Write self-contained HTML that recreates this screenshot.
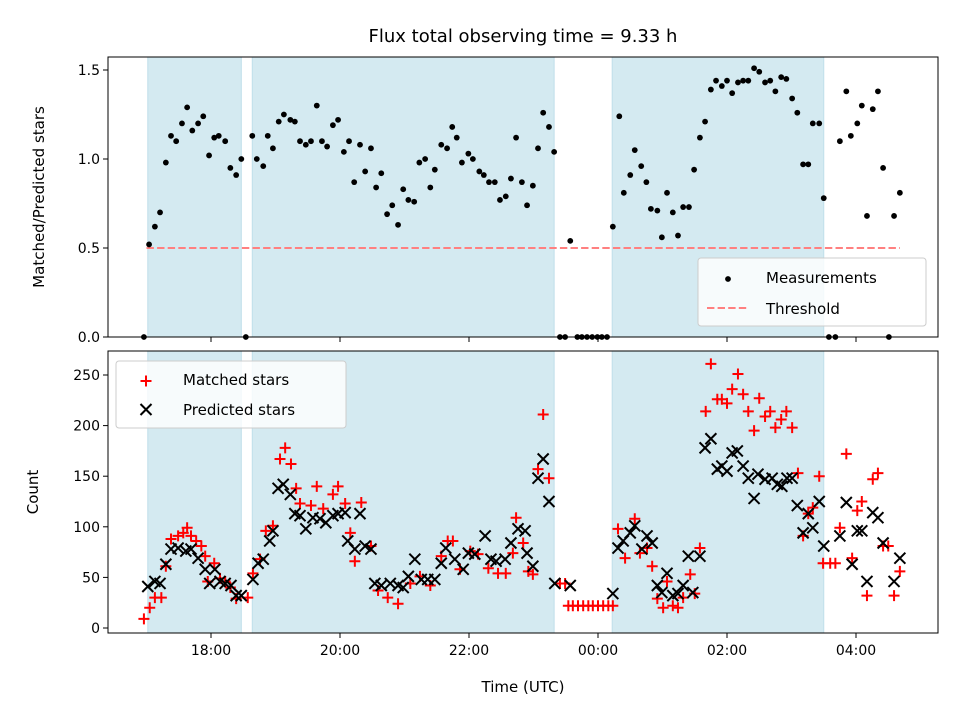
<!DOCTYPE html>
<html><head><meta charset="utf-8"><style>
body{margin:0;background:#fff}
svg{display:block;font-family:"DejaVu Sans","Liberation Sans",sans-serif}
</style></head><body>
<svg id="fig" width="960" height="720" viewBox="0 0 960 720">
<g id="topPanel"></g>
<g id="botPanel"></g>
<text x="523" y="42" text-anchor="middle" font-size="18">Flux total observing time = 9.33 h</text>
<text x="523" y="692" text-anchor="middle" font-size="15">Time (UTC)</text>
<text transform="translate(44,197) rotate(-90)" text-anchor="middle" font-size="15">Matched/Predicted stars</text>
<text transform="translate(38,492) rotate(-90)" text-anchor="middle" font-size="15">Count</text>
</svg>
<script>
const shadeStarts=[17.02,18.64,24.22];
const shadeEnds=[18.47,23.32,27.50];
const threshold=0.5;
const thresholdRange=[17.0,28.68];
const xTickHours=[18,20,22,24,26,28];
const xTickLabels=["18:00","20:00","22:00","00:00","02:00","04:00"];
const ratioTicks=[0,0.5,1.0,1.5];
const ratioTickLabels=["0.0","0.5","1.0","1.5"];
const countTicks=[0,50,100,150,200,250];
const ratioTimes=[16.96,17.04,17.13,17.21,17.30,17.38,17.46,17.55,17.63,17.71,17.80,17.88,17.97,18.05,18.12,18.22,18.30,18.39,18.47,18.54,18.64,18.71,18.81,18.88,18.96,19.05,19.13,19.23,19.30,19.38,19.47,19.55,19.64,19.72,19.80,19.89,19.97,20.06,20.14,20.22,20.31,20.39,20.48,20.56,20.64,20.73,20.81,20.90,20.98,21.06,21.15,21.23,21.32,21.40,21.47,21.57,21.66,21.74,21.81,21.89,21.99,22.06,22.16,22.23,22.31,22.40,22.48,22.57,22.65,22.73,22.82,22.90,22.99,23.07,23.15,23.24,23.32,23.41,23.49,23.57,23.68,23.75,23.83,23.91,23.99,24.06,24.14,24.23,24.33,24.40,24.50,24.57,24.67,24.75,24.82,24.92,24.99,25.07,25.16,25.24,25.32,25.41,25.49,25.58,25.66,25.75,25.83,25.92,26.00,26.08,26.17,26.25,26.33,26.42,26.50,26.59,26.67,26.75,26.84,26.92,27.01,27.09,27.18,27.26,27.33,27.43,27.50,27.58,27.68,27.75,27.85,27.92,28.02,28.09,28.17,28.26,28.34,28.42,28.51,28.59,28.68];
const ratioValues=[0,0.52,0.62,0.70,0.98,1.13,1.10,1.20,1.29,1.16,1.20,1.24,1.02,1.12,1.13,1.10,0.95,0.91,1.00,0,1.13,1.00,0.96,1.13,1.06,1.21,1.25,1.22,1.21,1.10,1.08,1.10,1.30,1.10,1.07,1.19,1.22,1.04,1.10,0.87,1.08,0.93,1.06,0.84,0.92,0.69,0.74,0.63,0.83,0.77,0.76,0.98,1.00,0.84,0.94,1.08,1.06,1.18,1.12,0.98,1.03,1.00,0.93,0.91,0.87,0.87,0.77,0.79,0.89,1.12,0.87,0.74,0.85,1.06,1.26,1.18,1.04,0,0,0.54,0,0,0,0,0,0,0,0.62,1.24,0.81,0.91,1.05,0.96,0.87,0.72,0.71,0.56,0.81,0.70,0.57,0.73,0.73,0.94,1.12,1.21,1.39,1.44,1.41,1.44,1.37,1.43,1.44,1.44,1.51,1.49,1.43,1.44,1.38,1.46,1.45,1.34,1.26,0.97,0.97,1.20,1.20,0.78,0,0,1.10,1.38,1.13,1.20,1.30,0.68,1.28,1.38,0.95,0,0.68,0.81];
const predTimes=[17.02,17.13,17.21,17.30,17.38,17.49,17.61,17.69,17.80,17.91,17.98,18.06,18.14,18.22,18.31,18.39,18.47,18.65,18.73,18.81,18.91,18.96,19.04,19.12,19.23,19.30,19.38,19.47,19.58,19.69,19.78,19.89,19.97,20.08,20.12,20.23,20.31,20.39,20.48,20.54,20.64,20.78,20.90,20.98,21.06,21.16,21.26,21.36,21.47,21.57,21.64,21.78,21.91,21.99,22.09,22.25,22.34,22.42,22.56,22.65,22.76,22.87,22.90,22.99,23.07,23.15,23.24,23.33,23.57,24.23,24.31,24.39,24.50,24.57,24.68,24.76,24.84,24.92,24.99,25.07,25.16,25.24,25.32,25.40,25.47,25.58,25.66,25.75,25.85,25.92,26.00,26.08,26.16,26.25,26.33,26.42,26.48,26.59,26.70,26.78,26.85,26.93,27.01,27.09,27.18,27.26,27.33,27.43,27.50,27.75,27.85,27.94,28.02,28.09,28.17,28.26,28.34,28.42,28.59,28.68];
const predValues=[41,46,44,63,78,79,76,78,69,58,44,58,46,44,42,32,32,48,64,68,86,96,138,142,132,113,111,98,109,108,104,111,113,114,86,78,113,81,78,44,42,44,42,40,51,68,48,48,48,64,79,68,58,74,73,91,68,66,68,84,98,96,74,61,148,167,125,44,42,34,79,86,94,101,78,91,84,42,35,54,32,34,42,71,35,71,178,187,157,160,155,173,175,160,148,128,152,147,148,142,140,148,148,121,94,113,99,125,81,91,124,63,96,96,46,114,109,84,46,69];
const matchTimes=[16.96,17.05,17.13,17.23,17.30,17.38,17.49,17.57,17.63,17.69,17.77,17.85,17.91,17.95,18.05,18.14,18.22,18.30,18.39,18.57,18.65,18.76,18.85,18.96,19.07,19.15,19.24,19.32,19.38,19.55,19.64,19.74,19.89,19.97,20.08,20.16,20.23,20.33,20.48,20.59,20.74,20.90,21.09,21.24,21.40,21.57,21.67,21.75,21.86,22.02,22.14,22.30,22.45,22.57,22.68,22.73,22.84,22.92,22.99,23.07,23.15,23.24,23.41,23.49,23.54,23.61,23.69,23.77,23.85,23.92,24.00,24.08,24.16,24.23,24.31,24.42,24.57,24.65,24.76,24.84,24.92,25.01,25.07,25.16,25.24,25.32,25.43,25.50,25.58,25.67,25.75,25.85,25.92,26.00,26.08,26.17,26.25,26.33,26.42,26.50,26.59,26.67,26.75,26.84,26.92,27.01,27.10,27.18,27.26,27.33,27.43,27.49,27.60,27.68,27.75,27.85,27.94,28.02,28.09,28.17,28.26,28.34,28.42,28.50,28.59,28.68];
const matchValues=[9,20,30,30,61,88,91,94,99,91,86,81,71,46,64,49,46,40,29,30,54,68,96,101,167,178,162,138,123,121,140,118,132,140,123,94,66,124,81,37,30,24,44,51,42,71,86,86,58,76,73,59,54,54,74,109,84,56,53,157,211,148,44,44,22,22,22,22,22,22,22,22,22,22,98,69,108,74,79,61,29,20,46,22,20,30,53,34,79,214,261,226,226,222,236,251,231,214,195,227,209,214,198,206,214,198,153,91,113,119,150,64,64,64,99,172,69,116,125,32,147,153,81,81,32,56];

const NS="http://www.w3.org/2000/svg";
const X0=108,X1=938;
const xs=t=>211+(t-18)*64.5;
const TOP={y0:57,y1:337}, BOT={y0:351,y1:633};
const ys1=v=>337-v*178;
const ys2=v=>628-v*1.012;
function mk(parent,tag,attrs,text){const e=document.createElementNS(NS,tag);for(const k in attrs)e.setAttribute(k,attrs[k]);if(text!==undefined)e.textContent=text;parent.appendChild(e);return e;}

function frame(g,P,name){
  for(let i=0;i<shadeStarts.length;i++){
    const r=mk(g,'rect',{x:xs(shadeStarts[i]),y:P.y0,width:xs(shadeEnds[i])-xs(shadeStarts[i]),height:P.y1-P.y0,fill:'#d4eaf1',stroke:'#c0dfea','stroke-width':1});
    
    
  }
}
function axesBox(g,P,labels){
  const b=mk(g,'rect',{x:X0,y:P.y0,width:X1-X0,height:P.y1-P.y0,fill:'none',stroke:'#000','stroke-width':1});
  
  
  xTickHours.forEach((h,i)=>{
    const x=xs(h);
    mk(g,'line',{x1:x,x2:x,y1:P.y1,y2:P.y1+5,stroke:'#000','stroke-width':1});
    if(labels){
      const t=mk(g,'text',{x:x,y:P.y1+22,'text-anchor':'middle','font-size':14},xTickLabels[i]);
      
      
    }
  });
}
const topG=document.getElementById('topPanel'), botG=document.getElementById('botPanel');
frame(topG,TOP,'top');frame(botG,BOT,'bottom');

const th=mk(topG,'line',{x1:xs(thresholdRange[0]),x2:xs(thresholdRange[1]),y1:ys1(threshold),y2:ys1(threshold),stroke:'#ff8080','stroke-width':2,'stroke-dasharray':'7.4,3.2'});



ratioTimes.forEach((t,i)=>{
  const c=mk(topG,'circle',{cx:xs(t),cy:ys1(ratioValues[i]),r:2.9,fill:'#000'});
  
  
});
axesBox(topG,TOP,false);
ratioTicks.forEach((v,i)=>{
  const y=ys1(v);
  mk(topG,'line',{x1:X0-5,x2:X0,y1:y,y2:y,stroke:'#000'});
  const t=mk(topG,'text',{x:X0-8,y:y+5,'text-anchor':'end','font-size':14},ratioTickLabels[i]);
  
  
});

matchTimes.forEach((t,i)=>{
  const x=xs(t),y=ys2(matchValues[i]);
  const p=mk(botG,'path',{d:`M${x-5.5},${y}H${x+5.5}M${x},${y-5.5}V${y+5.5}`,stroke:'#ff0000','stroke-width':2,fill:'none'});
  
  
});
predTimes.forEach((t,i)=>{
  const x=xs(t),y=ys2(predValues[i]),s=5.5;
  const p=mk(botG,'path',{d:`M${x-s},${y-s}L${x+s},${y+s}M${x-s},${y+s}L${x+s},${y-s}`,stroke:'#000','stroke-width':2,fill:'none'});
  
  
});
axesBox(botG,BOT,true);
countTicks.forEach(v=>{
  const y=ys2(v);
  mk(botG,'line',{x1:X0-5,x2:X0,y1:y,y2:y,stroke:'#000'});
  const t=mk(botG,'text',{x:X0-8,y:y+5,'text-anchor':'end','font-size':14},String(v));
  
  
});

const lg1=mk(topG,'g',{});


mk(lg1,'rect',{x:698,y:258,width:228,height:68,rx:3,fill:'#fff','fill-opacity':0.8,stroke:'#ccc'});
mk(lg1,'circle',{cx:728,cy:279,r:2.9,fill:'#000'});
mk(lg1,'text',{x:766,y:283,'font-size':15},'Measurements');
mk(lg1,'line',{x1:707,x2:748,y1:308,y2:308,stroke:'#ff8080','stroke-width':2,'stroke-dasharray':'7.4,3.2'});
mk(lg1,'text',{x:766,y:314,'font-size':15},'Threshold');

const lg2=mk(botG,'g',{});


mk(lg2,'rect',{x:116,y:361,width:230,height:67,rx:3,fill:'#fff','fill-opacity':0.8,stroke:'#ccc'});
mk(lg2,'path',{d:'M140.5,381H151.5M146,375.5V386.5',stroke:'#ff0000','stroke-width':2});
mk(lg2,'text',{x:183,y:385,'font-size':15},'Matched stars');
mk(lg2,'path',{d:'M140.5,404L151.5,415M140.5,415L151.5,404',stroke:'#000','stroke-width':2});
mk(lg2,'text',{x:183,y:415,'font-size':15},'Predicted stars');
</script>
</body></html>
